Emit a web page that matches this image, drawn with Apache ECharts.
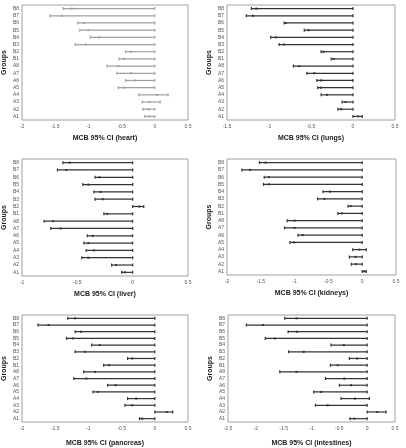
<!DOCTYPE html>
<html>
<head>
    <meta charset="utf-8">
    <title>MCB intervals</title>
</head>
<body style="margin:0;background:#fff;">
    <div id="main" style="width: 406px;height:448px;"></div>

    <script src="https://cdn.jsdelivr.net/npm/echarts@6/dist/echarts.min.js"></script>
    <script type="text/javascript">
        var groups = ['A1','A2','A3','A4','A5','A6','A7','A8','B1','B2','B3','B4','B5','B6','B7','B8'];

        // order A1..A8, B1..B8
        var heartLow  = [-0.15,-0.18,-0.19,-0.24,-0.55,-0.44,-0.57,-0.72,-0.54,-0.44,-1.20,-0.97,-1.13,-1.16,-1.58,-1.38];
        var heartMid  = [-0.08,-0.09,-0.08,0.03,-0.46,-0.30,-0.36,-0.55,-0.46,-0.36,-1.04,-0.84,-1.00,-1.07,-1.40,-1.25];
        var heartUp   = [0,0,0.08,0.20,0,0,0,0,0,0,0,0,0,0,0,0];

        var lungsLow  = [0,-0.18,-0.13,-0.38,-0.42,-0.43,-0.55,-0.71,-0.26,-0.38,-0.88,-0.98,-0.58,-0.82,-1.27,-1.21];
        var lungsMid  = [0.06,-0.14,-0.09,-0.31,-0.38,-0.38,-0.46,-0.64,-0.23,-0.35,-0.82,-0.92,-0.53,-0.80,-1.19,-1.15];
        var lungsUp   = [0.11,0,0,0,0,0,0,0,0,0,0,0,0,0,0,0];

        var liverLow  = [-0.10,-0.19,-0.46,-0.42,-0.44,-0.41,-0.74,-0.80,-0.26,0,-0.34,-0.35,-0.45,-0.34,-0.68,-0.63];
        var liverMid  = [-0.07,-0.15,-0.40,-0.35,-0.40,-0.36,-0.65,-0.72,-0.23,0.06,-0.27,-0.29,-0.40,-0.30,-0.60,-0.57];
        var liverUp   = [0,0,0,0,0,0,0,0,0,0.10,0,0,0,0,0,0];

        var kidneyLow = [0,-0.16,-0.19,-0.14,-1.07,-0.95,-1.15,-1.11,-0.36,-0.21,-0.66,-0.58,-1.46,-1.45,-1.78,-1.52];
        var kidneyMid = [0.03,-0.09,-0.10,-0.04,-1.01,-0.88,-1.00,-1.00,-0.30,-0.17,-0.56,-0.48,-1.38,-1.38,-1.66,-1.43];
        var kidneyUp  = [0.06,0,0,0.06,0,0,0,0,0,0,0,0,0,0,0,0];

        var pancLow   = [-0.23,0,-0.45,-0.41,-0.93,-0.71,-1.22,-1.07,-0.77,-0.41,-1.20,-0.95,-1.33,-1.20,-1.76,-1.31];
        var pancMid   = [-0.19,0.18,-0.34,-0.28,-0.86,-0.59,-1.03,-0.90,-0.69,-0.34,-1.05,-0.83,-1.23,-1.11,-1.60,-1.20];
        var pancUp    = [0,0.27,0,0,0,0,0,0,0,0,0,0,0,0,0,0];

        var intLow    = [-0.31,0,-0.93,-0.47,-0.96,-0.50,-0.75,-1.57,-0.66,-0.32,-1.41,-0.65,-1.83,-1.42,-2.17,-1.48];
        var intMid    = [-0.23,0.18,-0.71,-0.22,-0.83,-0.29,-0.41,-1.27,-0.53,-0.18,-1.14,-0.42,-1.66,-1.26,-1.87,-1.27];
        var intUp     = [0,0.34,0,0.04,0,0,0,0,0,0,0,0,0,0,0,0];

        var panels = [
            {name:'MCB 95% CI (heart)', low:heartLow, mid:heartMid, up:heartUp, min:-2, max:0.5, step:0.5, color:'#a0a0a0'},
            {name:'MCB 95% CI (lungs)', low:lungsLow, mid:lungsMid, up:lungsUp, min:-1.5, max:0.5, step:0.5, color:'#333'},
            {name:'MCB 95% CI (liver)', low:liverLow, mid:liverMid, up:liverUp, min:-1, max:0.5, step:0.5, color:'#333'},
            {name:'MCB 95% CI (kidneys)', low:kidneyLow, mid:kidneyMid, up:kidneyUp, min:-2, max:0.5, step:0.5, color:'#333'},
            {name:'MCB 95% CI (pancreas)', low:pancLow, mid:pancMid, up:pancUp, min:-2, max:0.5, step:0.5, color:'#333'},
            {name:'MCB 95% CI (intestines)', low:intLow, mid:intMid, up:intUp, min:-2.5, max:0.5, step:0.5, color:'#333'}
        ];

        var boxes = [
            {left:21, top:5, width:167, height:115, gap:15},
            {left:227, top:5, width:168, height:115, gap:15},
            {left:21, top:159, width:167, height:117, gap:15},
            {left:227, top:159, width:169, height:116, gap:15},
            {left:21, top:315, width:167, height:116, gap:18},
            {left:228, top:315, width:167, height:116, gap:18}
        ];

        function renderItem(params, api) {
            var y = api.value(3);
            var a = api.coord([api.value(0), y]);
            var m = api.coord([api.value(1), y]);
            var b = api.coord([api.value(2), y]);
            var c = api.visual('color');
            var st = {stroke: c, lineWidth: 1.2};
            return {
                type: 'group',
                children: [
                    {type:'line', shape:{x1:a[0], y1:a[1], x2:b[0], y2:b[1]}, style:st},
                    {type:'line', shape:{x1:a[0], y1:a[1]-1.5, x2:a[0], y2:a[1]+1.5}, style:st},
                    {type:'line', shape:{x1:b[0], y1:b[1]-1.5, x2:b[0], y2:b[1]+1.5}, style:st},
                    {type:'rect', shape:{x:m[0]-1, y:m[1]-1, width:2, height:2}, style:{fill:c}}
                ]
            };
        }

        var grid = [], xAxis = [], yAxis = [], series = [];
        for (var i = 0; i < panels.length; i++) {
            var p = panels[i];
            grid.push({left:boxes[i].left, top:boxes[i].top, width:boxes[i].width, height:boxes[i].height,
                show:true, borderColor:'#a0a0a0', borderWidth:1, backgroundColor:'#fff'});
            xAxis.push({
                gridIndex:i, type:'value', min:p.min, max:p.max, interval:p.step,
                name:p.name, nameLocation:'middle', nameGap:boxes[i].gap,
                nameTextStyle:{fontSize:7, fontWeight:'bold', color:'#222', fontFamily:'Liberation Sans'},
                axisLine:{show:false}, axisTick:{show:false}, splitLine:{show:false},
                axisLabel:{fontSize:5, color:'#555', margin:4, fontFamily:'Liberation Sans'}
            });
            yAxis.push({
                gridIndex:i, type:'category', data:groups, boundaryGap:true,
                name:'Groups', nameLocation:'middle', nameGap:14, nameRotate:90,
                nameTextStyle:{fontSize:7, fontWeight:'bold', color:'#222', fontFamily:'Liberation Sans'},
                axisLine:{show:false}, axisTick:{show:false}, splitLine:{show:false},
                axisLabel:{fontSize:5, color:'#555', margin:3, interval:0, fontFamily:'Liberation Sans'}
            });
            var data = [];
            for (var j = 0; j < groups.length; j++) {
                data.push([p.low[j], p.mid[j], p.up[j], j]);
            }
            series.push({
                type:'custom', xAxisIndex:i, yAxisIndex:i,
                itemStyle:{color:p.color},
                renderItem:renderItem,
                encode:{x:[0,1,2], y:3},
                data:data,
                clip:false
            });
        }

        var myChart = echarts.init(document.getElementById('main'));
        myChart.setOption({
            animation:false,
            grid:grid,
            xAxis:xAxis,
            yAxis:yAxis,
            series:series
        });
    </script>
</body>
</html>
